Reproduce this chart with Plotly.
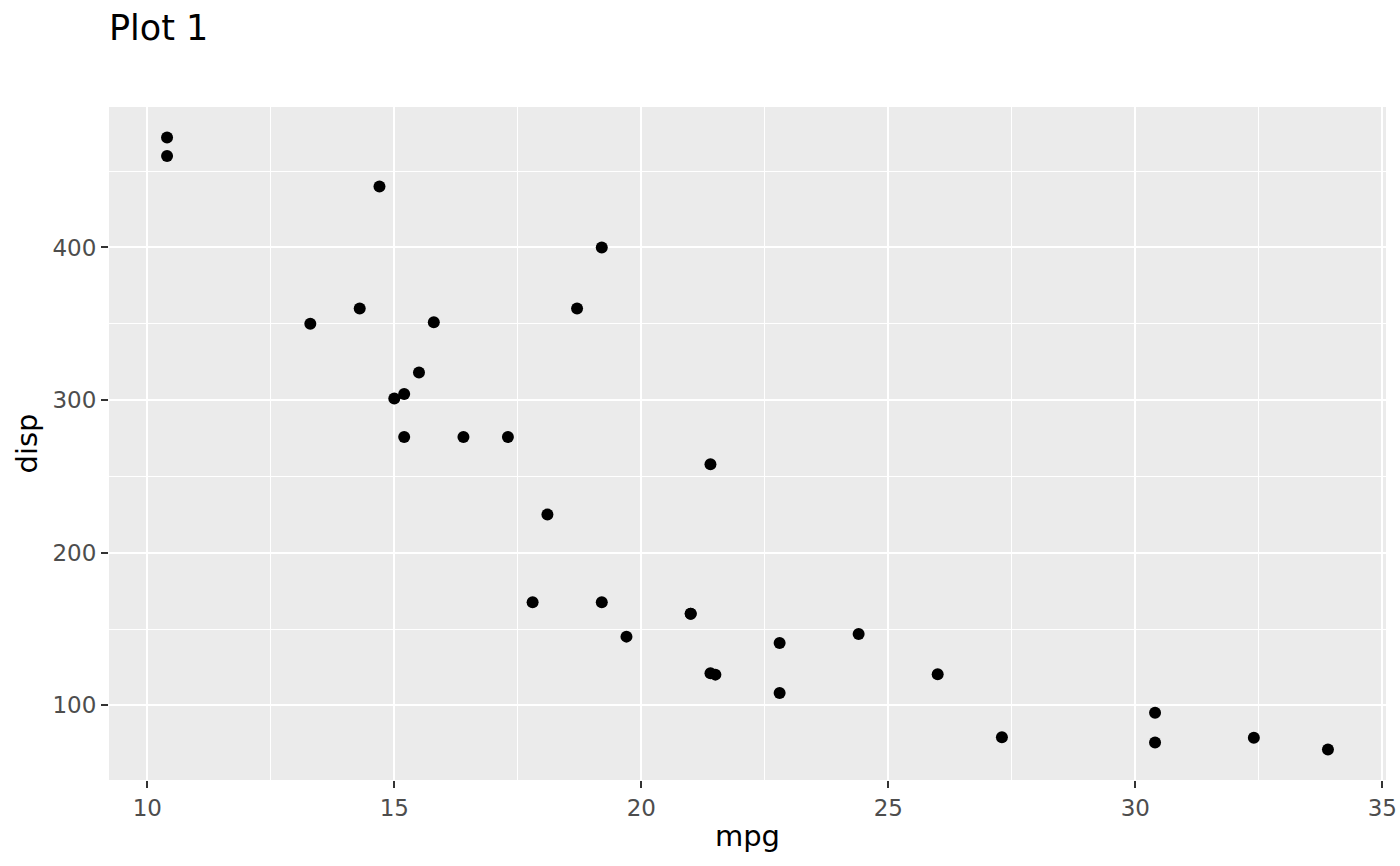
import plotly.graph_objects as go

mpg = [21.0, 21.0, 22.8, 21.4, 18.7, 18.1, 14.3, 24.4, 22.8, 19.2, 17.8, 16.4, 17.3, 15.2,
       10.4, 10.4, 14.7, 32.4, 30.4, 33.9, 21.5, 15.5, 15.2, 13.3, 19.2, 27.3, 26.0, 30.4,
       15.8, 19.7, 15.0, 21.4]
disp = [160, 160, 108, 258, 360, 225, 360, 146.7, 140.8, 167.6, 167.6, 275.8, 275.8, 275.8,
        472, 460, 440, 78.7, 75.7, 71.1, 120.1, 318, 304, 350, 400, 79, 120.3, 95.1,
        351, 145, 301, 121]

x_ticks = [10, 15, 20, 25, 30, 35]
y_ticks = [100, 200, 300, 400]

fig = go.Figure(go.Scatter(x=mpg, y=disp, mode="markers",
                           marker=dict(color="black", size=12, line=dict(width=0)),
                           hoverinfo="x+y"))

font = "DejaVu Sans"
fig.update_layout(
    width=1400, height=866,
    paper_bgcolor="white", plot_bgcolor="#EBEBEB",
    margin=dict(l=109, r=14, t=107, b=86),
    showlegend=False,
    title=dict(text="Plot 1", x=109/1400, xanchor="left", y=1-28/866, yanchor="middle",
               font=dict(family=font, size=35, color="black")),
    font=dict(family=font),
)
axis_common = dict(showgrid=True, gridcolor="white", gridwidth=2.3, zeroline=False,
                   ticks="outside", ticklen=7, tickwidth=2, tickcolor="#333333",
                   tickfont=dict(family=font, size=23, color="#4D4D4D"),
                   showline=False, automargin=False)
fig.update_xaxes(range=[9.225, 35.075], tickvals=x_ticks,
                 title=dict(text="mpg", font=dict(family=font, size=29, color="black"), standoff=6),
                 minor=dict(tickvals=[12.5, 17.5, 22.5, 27.5, 32.5], showgrid=True,
                            gridcolor="white", gridwidth=1.2, ticks=""),
                 **axis_common)
fig.update_yaxes(range=[51.055, 492.045], tickvals=y_ticks,
                 title=dict(text="disp", font=dict(family=font, size=29, color="black"), standoff=6),
                 minor=dict(tickvals=[150, 250, 350, 450], showgrid=True,
                            gridcolor="white", gridwidth=1.2, ticks=""),
                 **axis_common)

fig.write_html("out.html", config={"displayModeBar": False},
               post_script="document.body.style.margin='0';")
